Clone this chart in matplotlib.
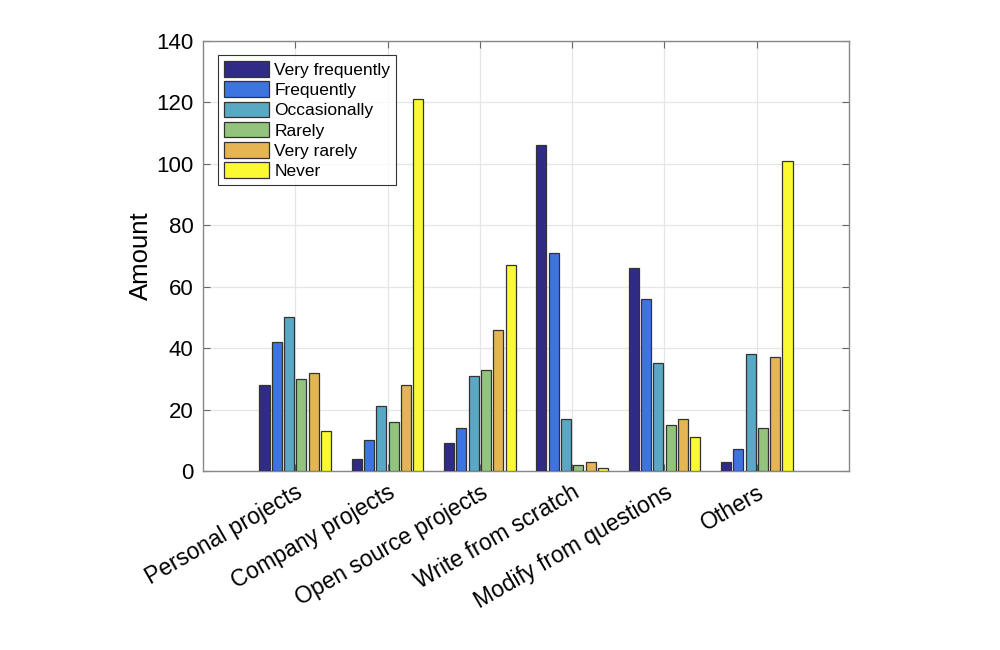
import matplotlib
matplotlib.use("Agg")
import matplotlib.pyplot as plt
import numpy as np

plt.rcParams['font.family'] = ['Liberation Sans', 'DejaVu Sans']

categories = ["Personal projects", "Company projects", "Open source projects",
              "Write from scratch", "Modify from questions", "Others"]
series_names = ["Very frequently", "Frequently", "Occasionally", "Rarely", "Very rarely", "Never"]
very_frequently = [28, 4, 9, 106, 66, 3]
frequently = [42, 10, 14, 71, 56, 7]
occasionally = [50, 21, 31, 17, 35, 38]
rarely = [30, 16, 33, 2, 15, 14]
very_rarely = [32, 28, 46, 3, 17, 37]
never = [13, 121, 67, 1, 11, 101]
series = [very_frequently, frequently, occasionally, rarely, very_rarely, never]
colors = ["#2f2b86", "#3d74e0", "#5aa9c4", "#94c37e", "#e4b552", "#fbfa32"]

fig = plt.figure(figsize=(10, 6.5), dpi=100)
ax = fig.add_axes([0.203, 0.2754, 0.646, 0.6615])

x = np.arange(1, len(categories) + 1)
n = len(series)
step = 0.8 / n
width = step * 0.82
for i, (vals, name, c) in enumerate(zip(series, series_names, colors)):
    ax.bar(x + (i - (n - 1) / 2) * step, vals, width=width, color=c,
           edgecolor="#333333", linewidth=0.9, label=name, zorder=3)

ax.set_xlim(0, 7)
ax.set_ylim(0, 140)
ax.set_yticks(np.arange(0, 141, 20))
ax.set_xticks(x)
ax.set_xticklabels(categories, rotation=30, ha="right", rotation_mode="anchor", fontsize=16.5)
ax.tick_params(axis="y", labelsize=16)
ax.tick_params(direction="in", length=5, color="#666666", top=True, right=True, pad=7)
ax.set_ylabel("Amount", fontsize=18.5, labelpad=2)
ax.grid(True, color="#e6e6e6", linewidth=0.9, zorder=0)
ax.set_axisbelow(True)
for s in ax.spines.values():
    s.set_color("#888888")
    s.set_linewidth(1.0)

leg = ax.legend(loc="upper left", bbox_to_anchor=(0.023, 0.967), fontsize=12.5,
                frameon=True, fancybox=False, edgecolor="black",
                handlelength=2.6, handleheight=1.0, labelspacing=0.2,
                handletextpad=0.3, borderpad=0.35, borderaxespad=0)
leg.get_frame().set_linewidth(0.8)

fig.savefig("out.png", dpi=100)
